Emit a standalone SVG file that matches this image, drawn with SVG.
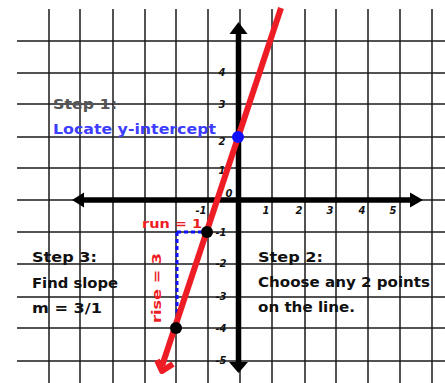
<svg xmlns="http://www.w3.org/2000/svg" width="445" height="383" viewBox="0 0 445 383">
<style>
.grid line{stroke:#1a1a1a;stroke-width:1.5}
.tick{font-family:"DejaVu Sans",sans-serif;font-size:10px;font-style:italic;font-weight:bold;fill:#111;text-anchor:middle}
.step{font-family:"DejaVu Sans","Liberation Sans",sans-serif;font-size:14px;font-weight:bold;fill:#111}
.lbl{font-family:"DejaVu Sans","Liberation Sans",sans-serif;font-size:13px;font-weight:bold;fill:#ee1c25}
</style>
<rect width="445" height="383" fill="#fff"/>
<g class="grid" id="grid">
<line x1="49" y1="9" x2="49" y2="383"/><line x1="80" y1="9" x2="80" y2="383"/><line x1="113" y1="9" x2="113" y2="383"/><line x1="145" y1="9" x2="145" y2="383"/><line x1="176" y1="9" x2="176" y2="383"/><line x1="208" y1="9" x2="208" y2="383"/><line x1="240" y1="9" x2="240" y2="383"/><line x1="272" y1="9" x2="272" y2="383"/><line x1="305" y1="9" x2="305" y2="383"/><line x1="336" y1="9" x2="336" y2="383"/><line x1="368" y1="9" x2="368" y2="383"/><line x1="400" y1="9" x2="400" y2="383"/><line x1="432" y1="9" x2="432" y2="383"/>
<line x1="17" y1="41" x2="445" y2="41"/><line x1="17" y1="73" x2="445" y2="73"/><line x1="17" y1="104" x2="445" y2="104"/><line x1="17" y1="137" x2="445" y2="137"/><line x1="17" y1="168" x2="445" y2="168"/><line x1="17" y1="200" x2="445" y2="200"/><line x1="17" y1="232" x2="445" y2="232"/><line x1="17" y1="264" x2="445" y2="264"/><line x1="17" y1="297" x2="445" y2="297"/><line x1="17" y1="328" x2="445" y2="328"/><line x1="17" y1="361" x2="445" y2="361"/>
</g>
<g id="axes">
<line x1="80" y1="200" x2="414" y2="200" stroke="#000" stroke-width="5.5"/>
<polygon points="72,200 84,192.5 84,207.5" fill="#000"/>
<polygon points="423,200 410,192.5 410,207.5" fill="#000"/>
<line x1="238.5" y1="30" x2="238.5" y2="365" stroke="#000" stroke-width="5.5"/>
<polygon points="238.5,22 229.5,34 247.5,34" fill="#000"/>
<polygon points="238.5,373 229,362 248,362" fill="#000"/>
</g>
<g id="ticks">
<text class="tick" x="222" y="76">4</text><text class="tick" x="222" y="108">3</text><text class="tick" x="222" y="145">2</text><text class="tick" x="222" y="174">1</text><text class="tick" x="229" y="197">0</text>
<text class="tick" x="201" y="214">-1</text><text class="tick" x="266" y="214">1</text><text class="tick" x="299" y="214">2</text><text class="tick" x="330" y="214">3</text><text class="tick" x="362" y="214">4</text><text class="tick" x="393" y="214">5</text>
<text class="tick" x="221" y="236">-1</text><text class="tick" x="221" y="267">-2</text><text class="tick" x="221" y="300">-3</text><text class="tick" x="221" y="332">-4</text><text class="tick" x="221" y="364">-5</text>
</g>
<g id="slope-guides" fill="none" stroke="#1010ff" stroke-width="3" stroke-dasharray="4 3">
<line x1="177" y1="232" x2="205" y2="232"/>
<line x1="177" y1="232" x2="177" y2="324"/>
</g>
<g id="line" stroke="#ee1c25" stroke-width="6" fill="none" stroke-linecap="butt" stroke-linejoin="round">
<line x1="281" y1="8" x2="162" y2="366"/>
<polyline points="157,360 162,371 173,364"/>
</g>
<g id="points">
<circle cx="238" cy="137" r="6" fill="#1010ff"/>
<circle cx="207" cy="232" r="6" fill="#000"/>
<circle cx="176" cy="328" r="6" fill="#000"/>
</g>
<g id="step1">
<text class="step" x="53" y="109" style="fill:#555" textLength="64" lengthAdjust="spacingAndGlyphs">Step 1:</text>
<text class="step" x="53" y="134" style="fill:#3d3dff" textLength="163" lengthAdjust="spacingAndGlyphs">Locate y-intercept</text>
</g>
<g id="step2">
<text class="step" x="258" y="262" textLength="65" lengthAdjust="spacingAndGlyphs">Step 2:</text>
<text class="step" x="258" y="287" textLength="172" lengthAdjust="spacingAndGlyphs">Choose any 2 points</text>
<text class="step" x="258" y="312" textLength="97" lengthAdjust="spacingAndGlyphs">on the line.</text>
</g>
<g id="step3">
<text class="step" x="32" y="262" textLength="65" lengthAdjust="spacingAndGlyphs">Step 3:</text>
<text class="step" x="32" y="288" textLength="86" lengthAdjust="spacingAndGlyphs">Find slope</text>
<text class="step" x="32" y="313" textLength="70" lengthAdjust="spacingAndGlyphs">m = 3/1</text>
</g>
<g id="labels">
<text class="lbl" x="142" y="228" textLength="60" lengthAdjust="spacingAndGlyphs">run = 1</text>
<text class="lbl" transform="translate(161,323) rotate(-90)" x="0" y="0" textLength="70" lengthAdjust="spacingAndGlyphs">rise = 3</text>
</g>
</svg>
